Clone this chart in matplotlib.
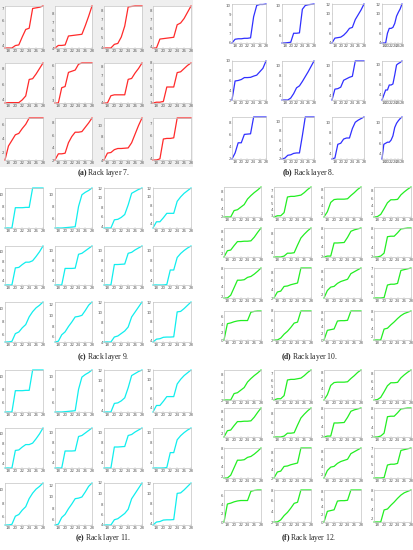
import matplotlib
matplotlib.use("Agg")
import matplotlib.pyplot as plt
from matplotlib.ticker import MaxNLocator
from matplotlib.patches import Rectangle

plt.rcParams['mathtext.fontset'] = 'custom'
plt.rcParams['mathtext.rm'] = 'Liberation Serif'
plt.rcParams['mathtext.bf'] = 'Liberation Serif:bold'

# ---------------- data ----------------
x_hours = [17, 18, 19, 20, 21, 22, 23, 24, 25, 26, 27, 28]
x_ticks = [18, 20, 22, 24, 26, 28]

layer7 = [
    [3.8, 3.8, 3.8, 4.0, 4.05, 4.7, 5.3, 5.4, 7.0, 7.05, 7.1, 7.2],
    [4.0, 4.3, 4.3, 4.35, 5.4, 5.45, 5.5, 5.55, 5.6, 6.6, 7.7, 8.9],
    [3.9, 3.9, 3.9, 4.3, 4.4, 5.1, 6.3, 8.4, 8.45, 8.5, 8.5, 8.5],
    [3.8, 3.8, 4.8, 4.85, 4.9, 4.95, 5.0, 6.4, 6.6, 7.1, 7.8, 8.5],
    [3.6, 3.65, 3.65, 3.65, 3.65, 4.0, 4.5, 6.6, 6.7, 7.3, 8.0, 8.7],
    [2.8, 2.8, 4.1, 4.2, 5.4, 5.5, 5.6, 6.1, 6.2, 6.2, 6.2, 6.2],
    [4.0, 4.0, 4.8, 4.9, 4.9, 4.9, 4.9, 6.6, 6.7, 7.3, 7.8, 8.4],
    [3.0, 3.1, 3.1, 3.2, 5.0, 5.0, 5.0, 6.8, 6.9, 7.3, 7.7, 8.0],
    [1.0, 3.0, 3.8, 4.6, 4.8, 5.5, 6.1, 7.0, 7.0, 7.0, 7.0, 7.0],
    [2.0, 3.0, 3.0, 3.1, 4.8, 5.8, 6.5, 6.5, 6.6, 7.3, 8.0, 8.8],
    [4.0, 5.2, 5.3, 5.8, 6.0, 6.0, 6.05, 6.1, 7.0, 8.5, 10.0, 11.3],
    [3.9, 3.9, 4.0, 5.7, 5.75, 5.75, 5.8, 7.5, 7.5, 7.5, 7.5, 7.5],
]

layer8 = [
    [6.0, 6.4, 6.45, 6.45, 6.5, 6.5, 6.55, 8.8, 10.0, 10.1, 10.1, 10.15],
    [5.0, 5.0, 5.05, 5.1, 6.3, 6.3, 6.35, 9.5, 10.0, 10.1, 10.15, 10.2],
    [4.0, 5.0, 5.1, 5.2, 5.6, 6.2, 7.0, 7.2, 8.8, 9.8, 10.8, 12.0],
    [4.0, 4.0, 4.0, 6.0, 7.0, 7.0, 7.2, 8.0, 9.5, 10.3, 11.0, 12.0],
    [2.0, 5.9, 6.0, 6.2, 6.6, 6.6, 6.65, 6.9, 7.1, 7.8, 8.5, 10.0],
    [3.0, 3.0, 3.0, 3.4, 4.3, 5.5, 5.9, 6.8, 7.8, 8.8, 9.9, 11.0],
    [3.0, 5.2, 5.3, 5.6, 7.0, 7.3, 7.6, 7.8, 10.9, 10.9, 10.9, 10.9],
    [3.0, 4.0, 5.0, 5.0, 6.0, 6.0, 6.2, 8.0, 10.0, 10.3, 10.5, 10.8],
    [2.0, 3.0, 4.7, 4.7, 6.1, 6.15, 6.2, 9.0, 9.0, 9.0, 9.0, 9.0],
    [2.0, 2.2, 2.8, 2.9, 3.2, 3.3, 3.3, 7.0, 11.0, 11.0, 11.0, 11.0],
    [3.0, 3.2, 5.8, 6.0, 6.8, 7.0, 7.0, 8.8, 10.0, 10.4, 10.7, 11.0],
    [3.0, 5.8, 6.0, 6.2, 6.2, 6.6, 7.4, 9.0, 9.8, 10.3, 10.7, 11.0],
]

layer9 = [
    [4.5, 4.5, 4.5, 7.8, 7.8, 7.8, 7.85, 7.85, 11.0, 11.0, 11.0, 11.0],
    [4.5, 4.5, 4.5, 4.55, 4.6, 4.65, 4.7, 8.0, 9.9, 10.3, 10.6, 11.0],
    [3.7, 3.7, 3.7, 5.4, 5.5, 5.9, 6.5, 8.5, 10.9, 11.3, 11.7, 12.0],
    [3.0, 4.4, 4.4, 5.3, 6.3, 6.3, 6.3, 9.0, 10.0, 10.8, 11.4, 12.0],
    [3.0, 3.0, 3.0, 6.6, 6.7, 7.3, 7.8, 7.8, 8.1, 9.0, 10.0, 11.2],
    [3.0, 3.0, 3.0, 6.4, 6.4, 6.4, 6.45, 9.3, 9.5, 10.0, 10.5, 11.0],
    [3.0, 3.0, 3.0, 7.2, 7.2, 7.25, 7.3, 9.5, 9.7, 10.2, 10.6, 11.0],
    [3.0, 3.0, 3.0, 3.0, 3.1, 6.0, 6.0, 8.5, 9.3, 9.9, 10.4, 10.8],
    [4.8, 4.8, 4.9, 6.1, 6.35, 7.0, 7.5, 8.7, 9.5, 10.1, 10.5, 11.0],
    [5.0, 5.15, 6.35, 6.9, 7.9, 8.75, 9.7, 9.8, 10.0, 10.9, 11.9, 12.5],
    [4.0, 4.0, 4.0, 5.0, 5.2, 5.7, 6.2, 7.0, 9.0, 10.0, 11.0, 12.0],
    [3.7, 4.3, 4.4, 4.7, 4.75, 4.75, 4.8, 10.1, 10.2, 10.8, 11.5, 12.2],
]

layer10 = [
    [2.0, 2.0, 2.0, 3.5, 3.7, 4.3, 4.9, 6.2, 7.0, 7.7, 8.3, 9.0],
    [2.8, 3.0, 3.0, 3.5, 6.0, 6.1, 6.1, 6.2, 6.3, 6.7, 7.2, 7.6],
    [1.2, 2.5, 4.8, 5.5, 5.6, 5.6, 5.6, 5.7, 6.5, 7.2, 8.0, 8.6],
    [1.0, 1.1, 1.7, 3.2, 4.8, 5.6, 5.6, 5.7, 6.9, 7.7, 8.4, 9.0],
    [1.1, 2.8, 3.0, 4.2, 5.3, 5.3, 5.4, 5.4, 5.5, 6.5, 7.8, 9.0],
    [3.0, 3.0, 3.0, 3.2, 3.8, 3.8, 3.9, 5.5, 7.0, 7.8, 8.5, 9.1],
    [1.8, 2.0, 2.0, 4.8, 4.8, 4.85, 4.9, 6.0, 7.3, 7.6, 7.8, 8.0],
    [2.0, 2.0, 2.2, 2.8, 6.2, 6.3, 6.3, 7.0, 7.8, 7.9, 8.0, 8.0],
    [1.6, 1.6, 2.2, 3.8, 5.4, 5.4, 5.5, 6.0, 6.2, 6.7, 7.3, 8.0],
    [2.0, 3.4, 3.6, 4.7, 4.8, 5.1, 5.3, 5.5, 9.0, 9.0, 9.0, 9.0],
    [1.0, 3.0, 3.9, 4.1, 4.9, 5.4, 5.7, 6.0, 7.5, 8.0, 8.5, 9.0],
    [3.3, 3.3, 3.3, 3.35, 4.9, 5.0, 5.0, 5.1, 6.7, 6.8, 6.9, 7.0],
    [0.0, 4.1, 4.3, 4.6, 4.8, 4.9, 4.9, 4.9, 7.0, 7.2, 7.3, 7.3],
    [2.0, 2.0, 2.4, 3.2, 3.8, 4.6, 5.5, 5.7, 8.0, 8.0, 8.0, 8.0],
    [0.0, 2.8, 3.0, 3.2, 5.5, 5.6, 5.6, 5.7, 8.4, 8.4, 8.4, 8.4],
    [1.2, 1.2, 1.2, 3.8, 4.0, 4.8, 5.5, 6.3, 7.0, 7.5, 7.8, 8.1],
]

# the reference shows the same curves for layer 11 as layer 9, and for layer 12 as layer 10
layer11 = layer9
layer12 = layer10

captions = ["(a)", "(b)", "(c)", "(d)", "(e)", "(f)"]
caption_texts = ["Rack layer 7.", "Rack layer 8.", "Rack layer 9.",
                 "Rack layer 10.", "Rack layer 11.", "Rack layer 12."]
line_colors = ["#ff2a2a", "#3030ff", "#10eeee", "#22ee22", "#10eeee", "#22ee22"]

# ---------------- layout (pixels) ----------------
W, H = 413, 550
fig = plt.figure(figsize=(W / 100, H / 100), dpi=100)

def px_axes(x0, x1, y0, y1):
    return fig.add_axes([x0 / W, 1 - y1 / H, (x1 - x0) / W, (y1 - y0) / H])

# gray background of panel (a)
bg = Rectangle((0, 1 - 167 / H), 193 / W, 167 / H,
               transform=fig.transFigure, facecolor="#efefef",
               edgecolor="none", zorder=-10)
fig.add_artist(bg)

cols_left = [(5, 43), (55, 92), (104, 142), (153, 191)]
cols_b = [(232, 266), (282, 314), (332, 364), (382, 402)]
cols_right = [(224, 261), (274, 311), (324, 361), (374, 411)]

panels = [
    dict(data=layer7, cols=cols_left, rows=[(6, 48), (63, 103), (118, 160)], cap=(103, 173)),
    dict(data=layer8, cols=cols_b, rows=[(4, 43), (61, 100), (117, 159)], cap=(309, 173)),
    dict(data=layer9, cols=cols_left, rows=[(188, 228), (246, 285), (302, 342)], cap=(103, 357)),
    dict(data=layer10, cols=cols_right, rows=[(187, 217), (228, 257), (268, 298), (311, 340)], cap=(309, 357)),
    dict(data=layer11, cols=cols_left, rows=[(370, 412), (428, 468), (483, 525)], cap=(103, 538)),
    dict(data=layer12, cols=cols_right, rows=[(370, 400), (408, 437), (448, 478), (490, 522)], cap=(309, 538)),
]

for p, panel in enumerate(panels):
    data = panel["data"]
    ncols = len(panel["cols"])
    for i, ys in enumerate(data):
        r, c = divmod(i, ncols)
        x0, x1 = panel["cols"][c]
        y0, y1 = panel["rows"][r]
        ax = px_axes(x0, x1, y0, y1)
        ax.set_zorder(1)
        ax.set_facecolor("white")
        ax.plot(x_hours, ys, color=line_colors[p], lw=0.9, clip_on=False,
                solid_joinstyle="round")
        ax.set_xlim(17, 28)
        ax.set_ylim(min(ys), max(ys))
        ax.set_xticks(x_ticks)
        ax.yaxis.set_major_locator(MaxNLocator(nbins=5, steps=[1, 2, 5, 10], integer=True))
        ax.tick_params(labelsize=2.8, length=1.0, width=0.3, pad=0.8,
                       colors="#bbbbbb", labelcolor="#555555", direction="in")
        for s in ax.spines.values():
            s.set_color("#c4c4c4")
            s.set_linewidth(0.5)
    cx, cy = panel["cap"]
    fig.text(cx / W, 1 - cy / H,
             r"$\mathbf{" + captions[p] + "}$ " + caption_texts[p],
             ha="center", va="center", fontsize=5.5,
             family="Liberation Serif", color="#222222", zorder=2)

fig.savefig("out.png", dpi=100)
